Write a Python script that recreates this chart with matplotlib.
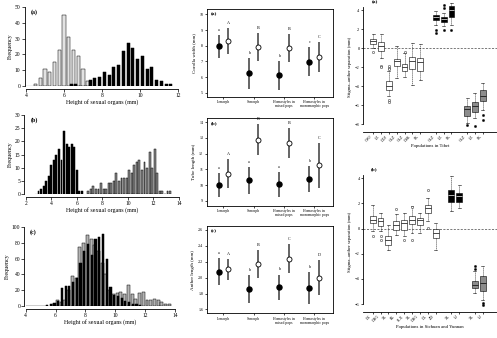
import matplotlib
matplotlib.use('Agg')
import matplotlib.pyplot as plt
import numpy as np

plt.rcParams['font.family'] = ['Liberation Serif', 'DejaVu Serif']
plt.rcParams['axes.linewidth'] = 0.6
plt.rcParams['xtick.major.width'] = 0.5
plt.rcParams['ytick.major.width'] = 0.5
plt.rcParams['xtick.major.size'] = 2
plt.rcParams['ytick.major.size'] = 2

#--------------------------------
# 1. HISTOGRAM DATA (height of sexual organs, mm)
#--------------------------------
# (a) bin width 0.25
a_light_start = 4.5
a_light = [1, 5, 11, 9, 15, 23, 45, 31, 23, 19, 11, 3]
a_dark_start = 6.375
a_dark = [1, 1, 0, 0, 4, 5, 6, 9, 7, 12, 13, 22, 27, 24, 17, 19, 11, 12, 4, 3, 1, 1]

# (b) bin width 0.2
b_dark_start = 3.0
b_dark = [1, 2, 3, 5, 7, 11, 13, 15, 17, 13, 24, 19, 18, 19, 18, 9, 1, 1]
b_gray_start = 6.9
b_gray = [1, 2, 3, 2, 2, 4, 2, 2, 4, 4, 5, 8, 5, 6, 6, 6, 9, 8, 11, 12, 13, 9,
          12, 10, 16, 10, 17, 8, 1, 1, 0, 1, 1]

# (c) bin width 0.25
c_dark_start = 5.375
c_dark = [1, 2, 4, 6, 23, 25, 25, 31, 35, 55, 70, 78, 65, 85, 87, 91, 60, 24,
          14, 13, 10, 6, 5, 3, 2, 1]
c_gray_start = 5.875
c_gray = [3, 7, 5, 8, 20, 38, 35, 75, 80, 90, 85, 77, 70, 55, 40, 20, 15, 16,
          18, 15, 26, 15, 9, 17, 18, 7, 7, 9, 8, 5, 3, 2]

#--------------------------------
# 2. FLORAL TRAITS (mean and SD)
#--------------------------------
morph_cats = ['L-morph', 'S-morph', 'Homostyles in\nmixed pops',
              'Homostyles in\nmonomorphic pops']

corolla_f = [7.95, 6.24, 6.11, 6.98]
corolla_f_sd = [0.75, 0.98, 0.93, 0.92]
corolla_o = [8.32, 7.90, 7.83, 7.26]
corolla_o_sd = [0.83, 0.88, 0.90, 0.95]
corolla_f_let = ['a', 'b', 'b', 'c']
corolla_o_let = ['A', 'B', 'B', 'C']

tube_f = [10.0, 10.3, 10.04, 10.38]
tube_f_sd = [0.74, 0.85, 0.80, 0.85]
tube_o = [10.72, 12.9, 12.68, 11.25]
tube_o_sd = [0.92, 0.96, 0.98, 1.45]
tube_f_let = ['a', 'a', 'a', 'b']
tube_o_let = ['A', 'B', 'B', 'C']

anther_f = [2.074, 1.86, 1.88, 1.87]
anther_f_sd = [0.17, 0.175, 0.16, 0.205]
anther_o = [2.103, 2.17, 2.24, 2.0]
anther_o_sd = [0.135, 0.175, 0.185, 0.22]
anther_f_let = ['a', 'b', 'b', 'b']
anther_o_let = ['A', 'B', 'C', 'D']

#--------------------------------
# 3. STIGMA-ANTHER SEPARATION (box stats)
#--------------------------------
tibet_labels = ['CWJ', 'LZ', 'DDJ', 'GLZ', 'GLZ', 'DSK', 'SK', 'GLZ', 'LZ', 'SK', 'GLZ', 'LZ', 'SK']
tibet_pos = [1, 2, 3, 4, 5, 6, 7, 9, 10, 11, 13, 14, 15]
tibet_q3 = [0.95, 0.63, -3.5, -1.12, -1.65, -0.95, -1.05, 3.5, 3.26, 4.45, -6.07, -5.72, -4.39]
tibet_med = [0.74, 0.18, -3.96, -1.4, -2.0, -1.4, -1.5, 3.26, 3.05, 3.95, -6.39, -6.14, -5.09]
tibet_q1 = [0.46, -0.35, -4.39, -1.93, -2.39, -2.18, -2.39, 2.9, 2.74, 3.25, -7.12, -6.74, -5.61]
tibet_hi = [1.5, 1.5, -2.46, 0.18, -0.5, 0.53, 0.46, 3.86, 3.7, 4.7, -5.26, -4.74, -3.68]
tibet_lo = [-0.03, -1.05, -5.1, -3.16, -3.0, -3.86, -3.33, 2.46, 2.28, 2.46, -7.9, -7.37, -6.5]
tibet_fliers = [[-0.42], [-1.86, -2.0], [-1.93, -2.1, -2.25, -5.45, -5.7], [], [-0.42],
                [], [], [1.93, 1.58], [4.56, 4.2, 1.86], [1.93], [-8.07], [-8.25], [-7.0, -7.54]]
tibet_group = ['w'] * 7 + ['k'] * 3 + ['g'] * 3

sc_labels = ['DC', 'DHG', 'XL', 'RL', 'SLX', 'XL', 'DHG', 'DL', 'ZD', 'XL', 'LJ', 'XL', 'LJ']
sc_pos = [1, 2, 3, 4, 5, 6, 7, 8, 9, 11, 12, 14, 15]
sc_q3 = [0.98, 0.85, -0.61, 0.58, 0.72, 0.98, 0.85, 1.91, -0.03, 3.05, 2.83, -4.19, -3.74]
sc_med = [0.72, 0.58, -0.87, 0.32, 0.45, 0.72, 0.66, 1.64, -0.34, 2.7, 2.57, -4.45, -4.32]
sc_q1 = [0.45, 0.19, -1.32, -0.08, -0.08, 0.37, 0.32, 1.25, -0.74, 2.12, 2.12, -4.72, -4.98]
sc_hi = [1.9, 1.25, 0.32, 1.19, 1.25, 1.77, 1.25, 2.44, 0.45, 4.16, 3.5, -3.39, -2.99]
sc_lo = [-0.2, -0.2, -1.67, -0.48, -0.61, -0.34, -0.34, 0.58, -1.67, 1.38, 1.64, -5.11, -5.64]
sc_fliers = [[-0.6], [-0.6, -0.87], [], [1.56], [-0.87], [1.7, -0.87], [], [3.1, 0.05],
             [], [], [], [-2.99, -3.2], [-5.9, -6.1]]
sc_group = ['w'] * 9 + ['k'] * 2 + ['g'] * 2

fig = plt.figure(figsize=(4.97, 3.38), dpi=100)
W, H = 497.0, 338.0


def px_axes(x0, y_top, x1, y_bot):
    return fig.add_axes([x0 / W, 1 - y_bot / H, (x1 - x0) / W, (y_bot - y_top) / H])


#--------------------------------
# 4. LEFT COLUMN: histograms
#--------------------------------
def hist_panel(ax, label, xlim, xticks, ylim, yticks):
    for s in ['top', 'right']:
        ax.spines[s].set_visible(False)
    ax.spines['bottom'].set_position(('outward', 2))
    ax.spines['left'].set_position(('outward', 1))
    ax.set_xlim(*xlim)
    ax.set_ylim(*ylim)
    ax.set_xticks(xticks)
    ax.set_yticks(yticks)
    ax.tick_params(labelsize=4, pad=1, length=2)
    ax.set_xlabel('Height of sexual organs (mm)', fontsize=4.3, labelpad=1)
    ax.set_ylabel('Frequency', fontsize=4.3, labelpad=1)
    ax.text(0.03, 0.97, label, transform=ax.transAxes, fontsize=4.3,
            fontweight='bold', va='top')


def bars(ax, start, step, counts, width, color, shift=0.0, z=2):
    x = start + step * np.arange(len(counts)) + shift
    ax.bar(x, counts, width=width, color=color, edgecolor='black',
           linewidth=0.35, zorder=z)


ax = px_axes(26, 7, 178, 86)
ax.plot([4, 4.5], [0, 0], color='black', lw=0.8)
bars(ax, a_light_start, 0.25, a_light, 0.17, '#e2e2e2')
bars(ax, a_dark_start, 0.25, a_dark, 0.17, 'black', z=3)
hist_panel(ax, '(a)', (4, 12), [4, 6, 8, 10, 12], (0, 50), range(0, 51, 10))

ax = px_axes(25.7, 115, 179, 194)
ax.plot([2.7, 3.0], [0, 0], color='black', lw=0.8)
bars(ax, b_dark_start, 0.2, b_dark, 0.15, 'black')
bars(ax, b_gray_start, 0.2, b_gray, 0.15, '#8a8a8a')
hist_panel(ax, '(b)', (2, 14), [2, 4, 6, 8, 10, 12, 14], (0, 30), range(0, 31, 5))

ax = px_axes(25.7, 227, 175, 306)
ax.plot([4, 5.3], [0, 0], color='black', lw=1.0)
bars(ax, c_gray_start, 0.25, c_gray, 0.2, '#b4b4b4', z=2)
bars(ax, c_dark_start, 0.25, c_dark, 0.15, 'black', shift=0.05, z=3)
hist_panel(ax, '(c)', (4, 14), [4, 6, 8, 10, 12, 14], (0, 100), range(0, 101, 20))

#--------------------------------
# 5. MIDDLE COLUMN: means with error bars
#--------------------------------
def trait_panel(ax, label, ylabel, ylim, yticks, yfmt, f, fsd, o, osd, flet, olet):
    x = np.arange(len(morph_cats))
    off = 0.16
    ax.errorbar(x - off, f, yerr=fsd, fmt='o', color='black', ecolor='#3a3a3a',
                elinewidth=1.1, ms=3.6, capsize=0, zorder=3)
    ax.errorbar(x + off, o, yerr=osd, fmt='o', mfc='white', mec='black', mew=0.6,
                ecolor='#3a3a3a', elinewidth=1.1, ms=3.6, capsize=0, zorder=3)
    pad = (ylim[1] - ylim[0]) * 0.035
    for i in range(len(x)):
        ax.text(x[i] - off, f[i] + fsd[i] + pad, flet[i], fontsize=3, ha='center', va='bottom')
        ax.text(x[i] + off, o[i] + osd[i] + pad, olet[i], fontsize=3, ha='center', va='bottom')
    ax.set_xlim(-0.55, 3.62)
    ax.set_ylim(*ylim)
    ax.set_xticks(x)
    ax.set_xticklabels(morph_cats, fontsize=2.7, linespacing=1.0)
    ax.set_yticks(yticks)
    ax.set_yticklabels([yfmt.format(v) for v in yticks], fontsize=3)
    ax.tick_params(length=1.5, pad=1)
    ax.set_ylabel(ylabel, fontsize=3.6, labelpad=2)
    ax.text(0.03, 0.97, label, transform=ax.transAxes, fontsize=3.8,
            fontweight='bold', va='top')


ax = px_axes(206.7, 9.3, 333, 97)
trait_panel(ax, '(a)', 'Corolla width (mm)', (4.73, 10.32), [5, 6, 7, 8, 9, 10], '{:.0f}',
            corolla_f, corolla_f_sd, corolla_o, corolla_o_sd, corolla_f_let, corolla_o_let)

ax = px_axes(206.7, 118.3, 333, 206)
trait_panel(ax, '(b)', 'Tube length (mm)', (8.67, 14.25), [9, 10, 11, 12, 13, 14], '{:.0f}',
            tube_f, tube_f_sd, tube_o, tube_o_sd, tube_f_let, tube_o_let)

ax = px_axes(206.7, 226, 333, 313.3)
trait_panel(ax, '(c)', 'Anther length (mm)', (1.552, 2.65), [1.6, 1.8, 2.0, 2.2, 2.4, 2.6], '{:.1f}',
            anther_f, anther_f_sd, anther_o, anther_o_sd, anther_f_let, anther_o_let)

#--------------------------------
# 6. RIGHT COLUMN: boxplots
#--------------------------------
box_fill = {'w': 'white', 'k': 'black', 'g': '#8c8c8c'}


def box_panel(ax, label, xlabel, labels, pos, q1, med, q3, lo, hi, fliers, group,
              ylim, yticks, xlim):
    stats = []
    for i in range(len(pos)):
        stats.append(dict(med=med[i], q1=q1[i], q3=q3[i], whislo=lo[i],
                          whishi=hi[i], fliers=fliers[i]))
    for i in range(len(pos)):
        g = group[i]
        ax.bxp([stats[i]], positions=[pos[i]], widths=0.75, patch_artist=True,
               boxprops=dict(facecolor=box_fill[g], edgecolor='black', linewidth=0.4),
               medianprops=dict(color='white' if g == 'k' else 'black', linewidth=0.5),
               whiskerprops=dict(color='black', linewidth=0.4, linestyle=(0, (2, 1.5))),
               capprops=dict(color='black', linewidth=0.4),
               flierprops=dict(marker='o', markersize=1.6, markerfacecolor='black' if g != 'w' else 'white',
                               markeredgecolor='black', markeredgewidth=0.3),
               manage_ticks=False)
    ax.axhline(0, color='#444444', lw=0.5, ls=(0, (3, 2)), zorder=0)
    for s in ['top', 'right']:
        ax.spines[s].set_visible(False)
    ax.set_xlim(*xlim)
    ax.set_ylim(*ylim)
    ax.spines['left'].set_bounds(yticks[0], yticks[-1] + 0.3)
    ax.set_yticks(yticks)
    ax.set_xticks(pos)
    ax.set_xticklabels(labels, rotation=45, ha='right', fontsize=2.8)
    ax.tick_params(axis='y', labelsize=3.2, length=1.5, pad=1)
    ax.tick_params(axis='x', length=1.5, pad=0.5)
    ax.set_ylabel('Stigma\u2013anther separation (mm)', fontsize=3.4, labelpad=2)
    ax.set_xlabel(xlabel, fontsize=3.4, labelpad=1)
    ax.text(pos[0] - 0.2, yticks[-1] + 0.6, label, fontsize=3.8, fontweight='bold', va='bottom')


ax = px_axes(363, 1.45, 497, 132)
box_panel(ax, '(a)', 'Populations in Tibet', tibet_labels, tibet_pos, tibet_q1, tibet_med,
          tibet_q3, tibet_lo, tibet_hi, tibet_fliers, tibet_group,
          (-8.84, 4.9), [-8, -6, -4, -2, 0, 2, 4], (-0.32, 16.83))

ax = px_axes(363.3, 172, 497, 311.7)
box_panel(ax, '(b)', 'Populations in Sichuan and Yunnan', sc_labels, sc_pos, sc_q1, sc_med,
          sc_q3, sc_lo, sc_hi, sc_fliers, sc_group,
          (-6.61, 4.5), [-6, -4, -2, 0, 2, 4], (-0.19, 16.8))

fig.savefig('out.png', dpi=100)
